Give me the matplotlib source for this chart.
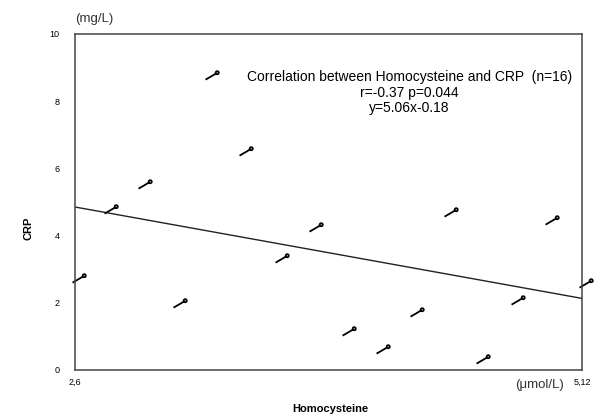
import numpy as np
import matplotlib
matplotlib.use("Agg")
import matplotlib.pyplot as plt
from matplotlib.path import Path

plt.rcParams['font.family'] = ['Liberation Sans', 'DejaVu Sans']

# data
hcy = [2.62, 2.78, 2.95, 3.28, 3.12, 3.45, 3.63, 3.80, 3.96,
       4.13, 4.30, 4.47, 4.63, 4.80, 4.97, 5.14]
crp = [2.75, 4.78, 5.54, 8.78, 1.99, 6.53, 3.34, 4.26, 1.16,
       0.62, 1.73, 4.70, 0.33, 2.08, 4.47, 2.60]
fit_x = [2.6, 5.12]
fit_y = [4.85, 2.13]
yticks = [0, 2, 4, 6, 8, 10]
xticks = [2.6, 5.12]
xticklabels = ['2,6', '5,12']

# squiggle marker: short slanted stroke with a small ring on top
stroke = Path([(-1.0, -0.6), (0.45, 0.25)], [Path.MOVETO, Path.LINETO])
ring = Path.circle((0.68, 0.4), 0.22)
marker = Path.make_compound_path(stroke, ring)

fig = plt.figure(figsize=(6, 4.19), dpi=100)
ax = fig.add_axes([0.125, 0.117, 0.845, 0.802])

ax.plot(fit_x, fit_y, color='#222222', lw=1.0)
ax.plot(hcy, crp, ls='none', marker=marker, markersize=10, mew=1.3,
        mec='black', mfc='none', clip_on=False)

ax.set_xlim(2.6, 5.12)
ax.set_ylim(0, 10)
ax.set_yticks(yticks)
ax.set_xticks(xticks)
ax.set_xticklabels(xticklabels)
ax.tick_params(length=0, labelsize=6.5, pad=11)
ax.tick_params(axis='x', pad=6)
for s in ax.spines.values():
    s.set_color('#444444')
    s.set_linewidth(1.1)

ax.text(0.682, 0.833, 'Correlation between Homocysteine and CRP  (n=16)\n'
        'r=-0.37 p=0.044\ny=5.06x-0.18',
        transform=fig.transFigure, ha='center', va='top', fontsize=10,
        linespacing=1.15)

fig.text(0.125, 0.955, '(mg/L)', ha='left', va='center', fontsize=9.5,
         color='#333333')
fig.text(0.94, 0.08, '(\u03bcmol/L)', ha='right', va='center', fontsize=9.5,
         color='#333333')
fig.text(0.55, 0.025, 'Homocysteine', ha='center', va='center',
         fontsize=8, fontweight='bold')
fig.text(0.047, 0.455, 'CRP', ha='center', va='center', rotation=90,
         fontsize=8, fontweight='bold')

fig.savefig('out.png', dpi=100)
